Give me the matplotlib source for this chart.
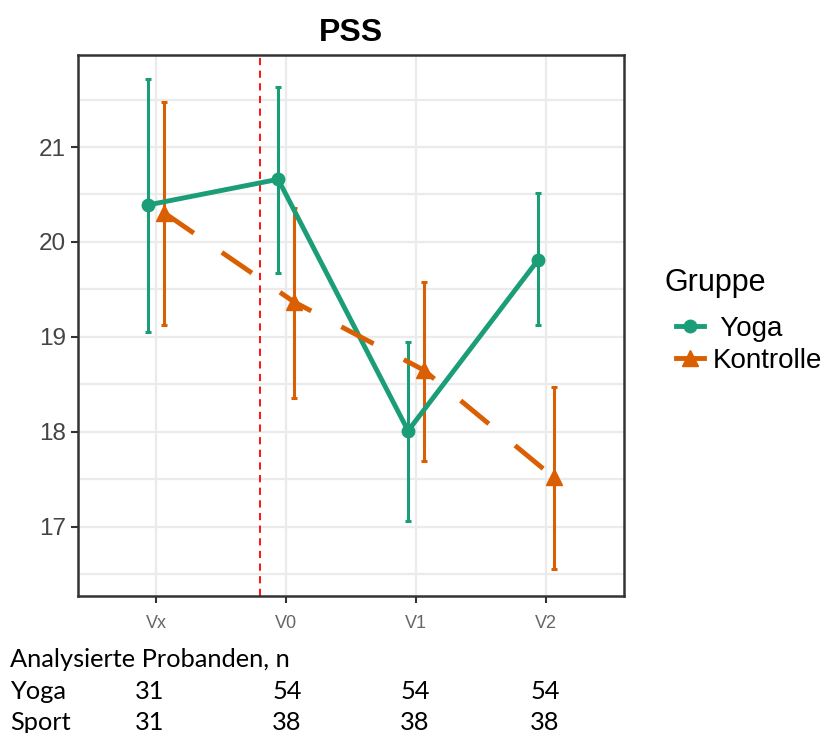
import matplotlib
matplotlib.use("Agg")
import matplotlib.pyplot as plt
import numpy as np

plt.rcParams["font.family"] = ["Liberation Sans", "DejaVu Sans"]

visits = ["Vx", "V0", "V1", "V2"]
yoga_mean = [20.39, 20.66, 18.01, 19.81]
yoga_lo = [19.05, 19.67, 17.06, 19.12]
yoga_hi = [21.72, 21.63, 18.95, 20.52]
ktrl_mean = [20.31, 19.37, 18.65, 17.52]
ktrl_lo = [19.12, 18.36, 17.69, 16.55]
ktrl_hi = [21.47, 20.36, 19.58, 18.47]
n_yoga = [31, 54, 54, 54]
n_sport = [31, 38, 38, 38]

green = "#1B9E77"
orange = "#D95F02"

fig = plt.figure(figsize=(8.27, 7.33), dpi=100)
ax = fig.add_axes([0.0943, 0.187, 0.66, 0.738])

x = np.arange(len(visits))
dodge = 0.06

# Yoga
xy = x - dodge
ym = np.array(yoga_mean)
ax.errorbar(xy, ym, yerr=[ym - np.array(yoga_lo), np.array(yoga_hi) - ym],
            fmt="none", ecolor=green, elinewidth=2.2, capsize=2.5, capthick=2.2, zorder=3)
ax.plot(xy, ym, "-o", color=green, lw=3.5, ms=9, zorder=4, label=" Yoga")

# Kontrolle
xk = x + dodge
km = np.array(ktrl_mean)
ax.errorbar(xk, km, yerr=[km - np.array(ktrl_lo), np.array(ktrl_hi) - km],
            fmt="none", ecolor=orange, elinewidth=2.2, capsize=2.5, capthick=2.2, zorder=3)
ax.plot(xk, km, "^", color=orange, ms=11, zorder=4)
ax.plot(xk, km, color=orange, lw=3.5, dashes=(7.5, 7), dash_capstyle="butt", zorder=4)
ax.plot([], [], "-^", color=orange, lw=3.5, ms=11, label="Kontrolle")

ax.axvline(0.8, color="red", lw=1.3, ls=(0, (4, 3)), zorder=2)

ax.set_xlim(-0.6, 3.6)
ax.set_ylim(16.27, 21.97)
ax.set_xticks(x)
ax.set_xticklabels(visits, fontsize=13, color="#666666")
ax.set_yticks([17, 18, 19, 20, 21])
ax.set_yticks(np.arange(16.5, 22, 1.0), minor=True)
ax.tick_params(axis="y", labelsize=17.5, labelcolor="#444444", length=5, width=1.5, color="#333333")
ax.tick_params(axis="x", length=5, width=1.5, color="#333333", pad=9)
ax.tick_params(axis="y", which="minor", length=0)
ax.grid(True, which="major", color="#EBEBEB", lw=1.6)
ax.grid(True, which="minor", axis="y", color="#EBEBEB", lw=1.6)
ax.set_axisbelow(True)
for s in ax.spines.values():
    s.set_color("#333333")
    s.set_linewidth(1.8)

ax.set_title("PSS", fontsize=23, fontweight="bold", pad=10)

fig.text(0.804, 0.614, "Gruppe", fontsize=22, va="center", ha="left")
fig.legend(loc="upper left", bbox_to_anchor=(0.818, 0.569), frameon=False,
           fontsize=20, handlelength=1.0, borderpad=0, borderaxespad=0,
           handletextpad=0.3, labelspacing=0.22)

# table of participant counts below the plot
tf = "Lato"
fs = 18.3
fig.text(0.012, 0.1, "Analysierte Probanden, n", fontsize=fs, family=tf, va="center")
fig.text(0.012, 0.057, "Yoga", fontsize=fs, family=tf, va="center")
fig.text(0.012, 0.014, "Sport", fontsize=fs, family=tf, va="center")
col_x = [0.163, 0.329, 0.484, 0.641]
for cx, a, b in zip(col_x, n_yoga, n_sport):
    fig.text(cx, 0.057, str(a), fontsize=fs, family=tf, va="center")
    fig.text(cx, 0.014, str(b), fontsize=fs, family=tf, va="center")

fig.savefig("out.png", dpi=100)
